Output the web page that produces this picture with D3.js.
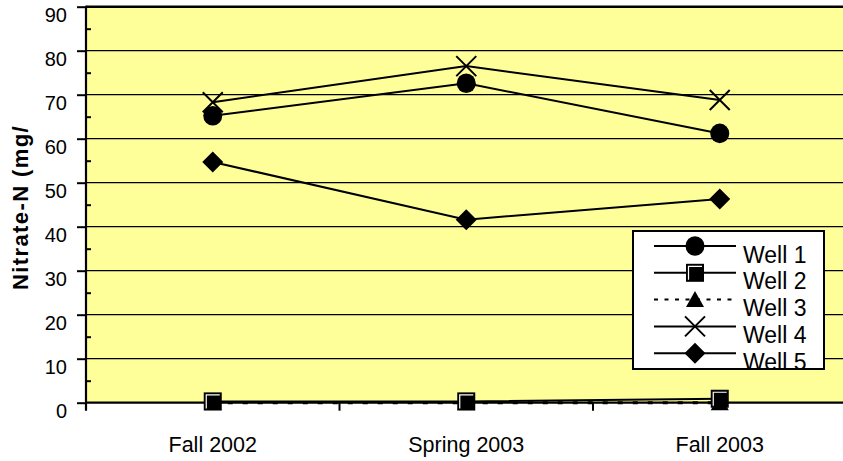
<!DOCTYPE html>
<html>
<head>
<meta charset="utf-8">
<script src="https://cdn.jsdelivr.net/npm/d3@7/dist/d3.min.js"></script>
<style>
  html, body { margin: 0; padding: 0; background: #ffffff; }
  svg { display: block; font-family: Arial, "Liberation Sans", sans-serif; }
</style>
</head>
<body>
<svg id="chart" width="843" height="461"></svg>
<script>
// ---- data ----
const categories = ["Fall 2002", "Spring 2003", "Fall 2003"];
const well1 = [65.2, 72.6, 61.2];
const well2 = [0.3, 0.3, 0.9];
const well3 = [0, 0, 0];
const well4 = [68.3, 76.5, 68.8];
const well5 = [54.7, 41.6, 46.3];
const seriesNames = ["Well 1", "Well 2", "Well 3", "Well 4", "Well 5"];
const yTicks = [0, 10, 20, 30, 40, 50, 60, 70, 80, 90];
const yMinorTicks = [5, 15, 25, 35, 45, 55, 65, 75, 85];
const yTitle = "Nitrate-N (mg/";

const series = [
  { name: seriesNames[0], values: well1, marker: "circle", dash: null },
  { name: seriesNames[1], values: well2, marker: "square", dash: null },
  { name: seriesNames[2], values: well3, marker: "triangle", dash: "5,10" },
  { name: seriesNames[3], values: well4, marker: "x", dash: null },
  { name: seriesNames[4], values: well5, marker: "diamond", dash: null }
];

const svg = d3.select("#chart");
const plot = { left: 86, right: 846.5, top: 6.7, bottom: 402.7 };

const x = d3.scaleBand().domain(categories).range([plot.left, plot.right]).paddingInner(0).paddingOuter(0);
const xc = c => x(c) + x.bandwidth() / 2;
const y = d3.scaleLinear().domain([0, 90]).range([plot.bottom, plot.top]);

// plot background
svg.append("rect")
  .attr("x", plot.left).attr("y", plot.top)
  .attr("width", plot.right - plot.left).attr("height", plot.bottom - plot.top)
  .attr("fill", "#FFFF99");

// gridlines
svg.append("g").selectAll("line").data(yTicks.filter(v => v > 0 && v < 90)).join("line")
  .attr("x1", plot.left).attr("x2", plot.right)
  .attr("y1", d => y(d)).attr("y2", d => y(d))
  .attr("stroke", "#000").attr("stroke-width", 1.3);

// top border
svg.append("line")
  .attr("x1", plot.left).attr("x2", plot.right)
  .attr("y1", y(90)).attr("y2", y(90))
  .attr("stroke", "#000").attr("stroke-width", 2.5);

// y axis major
const yAxis = d3.axisLeft(y).tickValues(yTicks).tickSize(9).tickPadding(10).tickSizeOuter(0);
const gy = svg.append("g").attr("transform", `translate(${plot.left},0)`).call(yAxis);
gy.select(".domain").remove();
gy.selectAll(".tick line").attr("stroke", "#000").attr("stroke-width", 2);
gy.selectAll(".tick text").attr("font-size", "20px").attr("fill", "#000").attr("dy", "0.72em");

// y minor ticks (inside)
const yMinor = d3.axisLeft(y).tickValues(yMinorTicks).tickSize(-5).tickFormat("");
const gym = svg.append("g").attr("transform", `translate(${plot.left},0)`).call(yMinor);
gym.select(".domain").remove();
gym.selectAll(".tick line").attr("stroke", "#000").attr("stroke-width", 2);

// y axis line
svg.append("line")
  .attr("x1", plot.left).attr("x2", plot.left)
  .attr("y1", plot.top - 1).attr("y2", plot.bottom + 8)
  .attr("stroke", "#000").attr("stroke-width", 2.2);

// x axis
const xAxis = d3.axisBottom(x).tickSize(0).tickPadding(34).tickSizeOuter(0);
const gx = svg.append("g").attr("transform", `translate(0,${plot.bottom})`).call(xAxis);
gx.select(".domain").remove();
gx.selectAll(".tick text").attr("font-size", "21.5px").attr("fill", "#000");

svg.append("line")
  .attr("x1", plot.left).attr("x2", plot.right)
  .attr("y1", plot.bottom).attr("y2", plot.bottom)
  .attr("stroke", "#000").attr("stroke-width", 2.2);

// x boundary ticks
const bounds = categories.slice(1).map(c => x(c));
svg.append("g").selectAll("line").data(bounds).join("line")
  .attr("x1", d => d).attr("x2", d => d)
  .attr("y1", plot.bottom).attr("y2", plot.bottom + 8)
  .attr("stroke", "#000").attr("stroke-width", 2);

// y title
svg.append("text")
  .attr("transform", `translate(28,290) rotate(-90)`)
  .attr("font-size", "22px").attr("font-weight", "bold")
  .attr("letter-spacing", "1.4px")
  .attr("fill", "#000")
  .text(yTitle);

// marker drawing
function drawMarker(g, type, cx, cy) {
  const s = g.append("g").attr("transform", `translate(${cx},${cy})`);
  if (type === "circle") {
    s.append("ellipse").attr("rx", 9.5).attr("ry", 9.8).attr("fill", "#000");
  } else if (type === "square") {
    s.append("rect").attr("x", -9).attr("y", -9).attr("width", 18).attr("height", 18).attr("fill", "#000");
    s.append("path").attr("d", "M-6.5,7 L-6.5,-6.5 L7,-6.5").attr("fill", "none").attr("stroke", "#fff").attr("stroke-width", 1.2);
  } else if (type === "triangle") {
    s.append("path").attr("d", "M0,-8.5 L9,7.5 L-9,7.5 Z").attr("fill", "#000");
  } else if (type === "x") {
    s.append("path").attr("d", "M-10,-10 L10,10 M-10,10 L10,-10").attr("stroke", "#000").attr("stroke-width", 2).attr("fill", "none");
  } else if (type === "diamond") {
    s.append("path").attr("d", "M0,-10.5 L10.5,0 L0,10.5 L-10.5,0 Z").attr("fill", "#000");
  }
}

const line = d3.line().x((d, i) => xc(categories[i])).y(d => y(d));

// draw order: Well 3 behind Well 2
const drawOrder = [series[2], series[1], series[0], series[3], series[4]];
drawOrder.forEach(s => {
  const g = svg.append("g");
  g.append("path").datum(s.values).attr("d", line)
    .attr("fill", "none").attr("stroke", "#000").attr("stroke-width", s.dash ? 3 : 2)
    .attr("stroke-dasharray", s.dash);
});
drawOrder.forEach(s => {
  const g = svg.append("g");
  s.values.forEach((v, i) => drawMarker(g, s.marker, xc(categories[i]), y(v)));
});

// legend
const lg = { x: 633, y: 231, w: 191, h: 138 };
svg.append("defs").append("clipPath").attr("id", "lgclip")
  .append("rect").attr("x", lg.x).attr("y", lg.y).attr("width", lg.w).attr("height", lg.h);
svg.append("rect").attr("x", lg.x).attr("y", lg.y).attr("width", lg.w).attr("height", lg.h)
  .attr("fill", "#fff");
const lgG = svg.append("g").attr("clip-path", "url(#lgclip)");
series.forEach((s, i) => {
  const ly = 246 + i * 26.8;
  lgG.append("line").attr("x1", 654).attr("x2", 736).attr("y1", ly).attr("y2", ly)
    .attr("stroke", "#000").attr("stroke-width", 2)
    .attr("stroke-dasharray", s.dash ? "4,6.5" : null);
  drawMarker(lgG, s.marker, 695, ly);
  lgG.append("text").attr("x", 743).attr("y", ly + 16.5)
    .attr("font-size", "23px").attr("fill", "#000").text(s.name);
});
svg.append("rect").attr("x", lg.x).attr("y", lg.y).attr("width", lg.w).attr("height", lg.h)
  .attr("fill", "none").attr("stroke", "#000").attr("stroke-width", 2);
</script>
</body>
</html>
